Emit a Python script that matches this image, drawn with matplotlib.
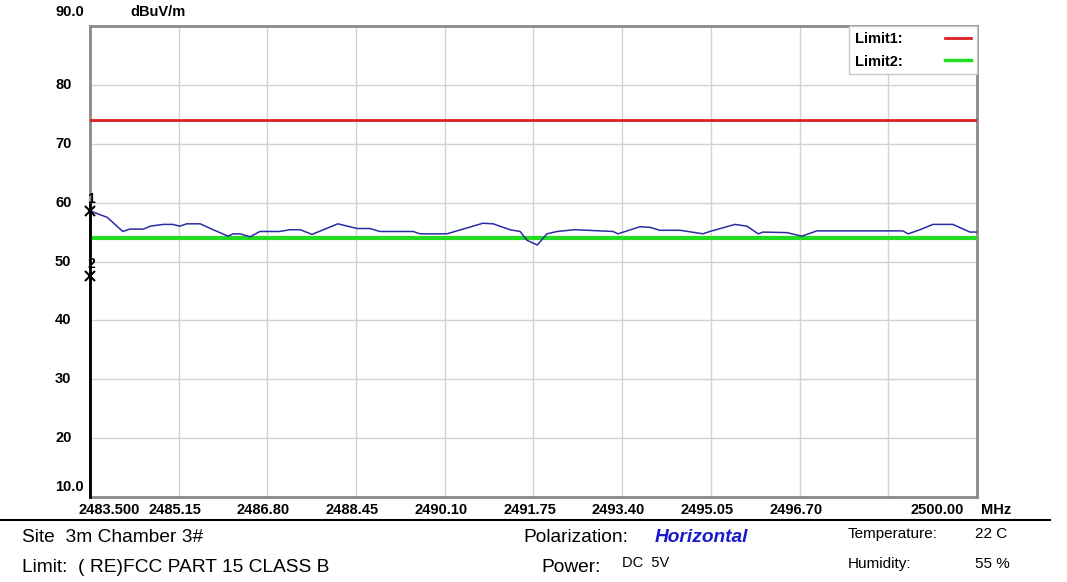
import matplotlib
matplotlib.use("Agg")
import matplotlib.pyplot as plt
from matplotlib.lines import Line2D
from matplotlib.transforms import ScaledTranslation, blended_transform_factory

# ---------------- data ----------------
freq_mhz = [2483.50, 2483.82, 2484.11, 2484.24, 2484.49, 2484.62, 2484.86, 2485.04,
            2485.17, 2485.30, 2485.55, 2485.79, 2486.07, 2486.16, 2486.29, 2486.48,
            2486.66, 2487.03, 2487.22, 2487.41, 2487.63, 2488.11, 2488.47, 2488.71,
            2488.89, 2489.51, 2489.64, 2490.14, 2490.25, 2490.81, 2491.00, 2491.31,
            2491.50, 2491.63, 2491.82, 2492.00, 2492.19, 2492.52, 2493.23, 2493.32,
            2493.73, 2493.92, 2494.10, 2494.48, 2494.90, 2495.03, 2495.50, 2495.72,
            2495.93, 2496.02, 2496.47, 2496.74, 2497.02, 2498.62, 2498.72, 2498.94,
            2499.18, 2499.55, 2499.87, 2500.00]
level_dbuv = [58.6, 57.5, 55.1, 55.5, 55.5, 56.0, 56.3, 56.3,
              56.0, 56.4, 56.4, 55.4, 54.3, 54.7, 54.7, 54.2,
              55.1, 55.1, 55.4, 55.4, 54.6, 56.4, 55.6, 55.6,
              55.1, 55.1, 54.7, 54.7, 55.0, 56.5, 56.4, 55.4,
              55.1, 53.6, 52.8, 54.7, 55.1, 55.4, 55.1, 54.7,
              55.9, 55.8, 55.3, 55.3, 54.7, 55.1, 56.3, 56.0,
              54.7, 55.0, 54.9, 54.3, 55.2, 55.2, 54.7, 55.4,
              56.3, 56.3, 55.0, 55.0]
limit1_level = 74.0
limit2_level = 54.0
marker_freqs = [2483.5, 2483.5]
marker_levels = [58.6, 47.5]
marker_names = ["1", "2"]

x_ticks = [2483.50, 2485.15, 2486.80, 2488.45, 2490.10, 2491.75,
           2493.40, 2495.05, 2496.70, 2498.35, 2500.00]
x_tick_labels = ["2483.500", "2485.15", "2486.80", "2488.45", "2490.10", "2491.75",
                 "2493.40", "2495.05", "2496.70", "", "2500.00"]
y_ticks = [10, 20, 30, 40, 50, 60, 70, 80, 90]
y_tick_labels = ["10.0", "20", "30", "40", "50", "60", "70", "80", "90.0"]

# ---------------- figure ----------------
W, H = 1067, 582
fig = plt.figure(figsize=(W / 100, H / 100), dpi=100)
fig.patch.set_facecolor("white")
ax = fig.add_axes([90 / W, 1 - 497 / H, 887 / W, 471 / H])
ax.set_xlim(2483.5, 2500.0)
ax.set_ylim(10, 90)
ax.set_xticks(x_ticks)
ax.set_yticks(y_ticks)
ax.tick_params(length=0, labelbottom=False, labelleft=False)
ax.grid(True, color="#d2d2d2", lw=1.0)
ax.set_axisbelow(True)
for s in ax.spines.values():
    s.set_color("#8a8a8a")
    s.set_linewidth(2.0)

def off(dx, dy):
    return ScaledTranslation(dx / 100, dy / 100, fig.dpi_scale_trans)

tick_font = dict(family="Liberation Sans", fontweight="bold", fontsize=10.5, color="black")

xtrans = blended_transform_factory(ax.transData, ax.transAxes)
n_xt = len(x_ticks)
for i, (t, lab) in enumerate(zip(x_ticks, x_tick_labels)):
    if i == 0:
        dx = 19
    elif i == n_xt - 1:
        dx = -40
    else:
        dx = -4
    ax.text(t, 0, lab, transform=xtrans + off(dx, -13), ha="center", va="center",
            clip_on=False, **tick_font)
ax.text(1, 0, "MHz", transform=ax.transAxes + off(4, -13), ha="left", va="center",
        clip_on=False, **tick_font)

ytrans = blended_transform_factory(ax.transAxes, ax.transData)
for t, lab in zip(y_ticks, y_tick_labels):
    dy = 14 if t == 90 else (10 if t == 10 else 0)
    ax.text(0, t, lab, transform=ytrans + off(-35, dy), ha="left", va="center",
            clip_on=False, **tick_font)
ax.text(0, 90, "dBuV/m", transform=ytrans + off(40, 14), ha="left", va="center",
        clip_on=False, **tick_font)

# limits and trace
ax.axhline(limit1_level, color="#dc1f1f", lw=2.0, zorder=3)
ax.axhline(limit2_level, color="#22dd22", lw=3.0, zorder=3)
ax.plot(freq_mhz, level_dbuv, color="#2b2ba3", lw=1.1, zorder=4)

# marker line and markers
ax.plot([marker_freqs[0], marker_freqs[0]], [10, marker_levels[0] + 1.2],
        color="black", lw=2.0, zorder=5, clip_on=False)
ax.plot(marker_freqs, marker_levels, ls="none", marker="x", color="black",
        ms=7, mew=1.5, zorder=6, clip_on=False)
for f, v, n in zip(marker_freqs, marker_levels, marker_names):
    ax.text(f, v, n, transform=ax.transData + off(1, 12), ha="center", va="center",
            family="Liberation Sans", fontweight="bold", fontsize=10, clip_on=False, zorder=6)

# legend
handles = [Line2D([], [], color="#dc1f1f", lw=2.0), Line2D([], [], color="#22dd22", lw=2.5)]
leg = ax.legend(handles, ["Limit1:", "Limit2:"], loc="upper right", borderaxespad=0,
                frameon=True, fancybox=False, markerfirst=False, handlelength=1.8,
                handletextpad=2.9, borderpad=0.4, labelspacing=0.6,
                prop=dict(family="Liberation Sans", weight="bold", size=10.5))
leg.get_frame().set_edgecolor("#c8c8c8")
leg.get_frame().set_linewidth(1.0)
leg.get_frame().set_alpha(1.0)

# bottom info block
fig.add_artist(Line2D([0, 1050 / W], [1 - 520 / H, 1 - 520 / H], color="black", lw=1.5))

def ftext(x, y, s, **kw):
    fig.text(x / W, 1 - y / H, s, va="center", ha="left", family="Liberation Sans", **kw)

ftext(22, 537, "Site  3m Chamber 3#", fontsize=13.8)
ftext(22, 567, "Limit:  ( RE)FCC PART 15 CLASS B", fontsize=13.8)
ftext(523, 537, "Polarization:", fontsize=13.8)
ftext(655, 537, "Horizontal", fontsize=13.8, fontweight="bold", fontstyle="italic", color="#1a1acc")
ftext(541, 568, "Power:", fontsize=13.8)
ftext(622, 563, "DC  5V", fontsize=10.5)
ftext(848, 534, "Temperature:", fontsize=11)
ftext(975, 534, "22 C", fontsize=11)
ftext(848, 564, "Humidity:", fontsize=11)
ftext(975, 564, "55 %", fontsize=11)

fig.savefig("out.png", dpi=100, facecolor="white")
